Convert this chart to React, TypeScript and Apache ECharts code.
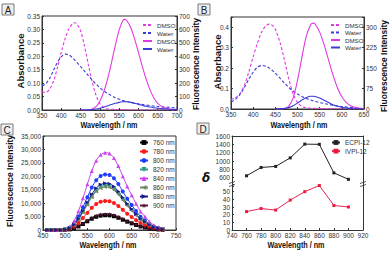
import React, { useEffect, useRef } from 'react';
import * as echarts from 'echarts';

const FONT = '"Liberation Sans", Arial, sans-serif';

// ---------- Panel A ----------
const wlAAbs = [350, 355, 360, 370, 380, 390, 400, 410, 420, 430, 435, 440, 450, 460, 470, 480, 490, 500, 510, 520, 540, 560, 600, 650, 700];
const absADmso = [0.068, 0.066, 0.066, 0.078, 0.108, 0.158, 0.215, 0.266, 0.303, 0.323, 0.325, 0.321, 0.295, 0.24, 0.17, 0.105, 0.055, 0.024, 0.009, 0.004, 0.002, 0.001, 0, 0, 0];
const absAWater = [0.09, 0.093, 0.098, 0.118, 0.148, 0.178, 0.198, 0.208, 0.205, 0.193, 0.186, 0.178, 0.162, 0.145, 0.128, 0.112, 0.097, 0.083, 0.071, 0.062, 0.046, 0.035, 0.023, 0.013, 0.008];
const wlAFl = [450, 460, 470, 480, 490, 500, 510, 520, 530, 540, 550, 560, 565, 570, 580, 590, 600, 610, 620, 630, 640, 650, 660, 670, 680, 690, 700];
const flADmso = [0, 0, 2, 8, 25, 65, 135, 230, 350, 480, 595, 668, 675, 665, 615, 530, 430, 325, 230, 150, 90, 50, 27, 14, 7, 3, 2];
const flAWater = [0, 0, 1, 3, 7, 13, 21, 31, 41, 50, 57, 61, 62, 61, 57, 50, 42, 35, 28, 22, 17, 13, 10, 8, 6, 5, 4];

// ---------- Panel B ----------
const wlBAbs = [350, 360, 370, 380, 390, 400, 410, 420, 430, 437, 445, 450, 460, 470, 480, 490, 500, 510, 520, 540, 560, 600, 650];
const absBDmso = [0.045, 0.055, 0.075, 0.115, 0.18, 0.255, 0.325, 0.38, 0.41, 0.415, 0.405, 0.39, 0.33, 0.245, 0.15, 0.075, 0.032, 0.012, 0.006, 0.003, 0.002, 0.001, 0];
const absBWater = [0.035, 0.047, 0.07, 0.105, 0.145, 0.18, 0.205, 0.213, 0.208, 0.2, 0.185, 0.175, 0.152, 0.128, 0.106, 0.088, 0.073, 0.061, 0.051, 0.037, 0.027, 0.012, 0.002];
const wlBFl = [450, 460, 470, 480, 490, 500, 510, 520, 530, 535, 540, 550, 560, 570, 580, 590, 600, 610, 620, 630, 640, 650];
const flBDmso = [0, 0, 2, 10, 40, 105, 190, 268, 310, 315, 311, 282, 236, 180, 125, 78, 45, 24, 12, 6, 3, 1];
const flBWater = [0, 1, 2, 5, 12, 22, 33, 42, 47, 47, 46, 40, 32, 24, 16, 10, 6, 4, 2, 1, 1, 0];

// ---------- Panel C ----------
const wlC = [460, 470, 480, 490, 500, 510, 520, 530, 540, 550, 560, 570, 580, 590, 600, 610, 620, 630, 640, 650, 660, 670, 680, 690, 700, 710, 720];
const c760 = [0, 0, 0, 10, 60, 230, 630, 1330, 2250, 3250, 4200, 4930, 5350, 5500, 5450, 5120, 4550, 3820, 3100, 2480, 1870, 1320, 960, 600, 350, 190, 90];
const c780 = [0, 0, 0, 20, 110, 450, 1240, 2620, 4430, 6370, 8250, 9680, 10500, 10800, 10690, 10040, 8920, 7500, 6080, 4860, 3670, 2590, 1880, 1190, 690, 380, 180];
const c800 = [0, 0, 0, 40, 210, 870, 2380, 5030, 8490, 12210, 15810, 18550, 20120, 20700, 20490, 19250, 17100, 14370, 11650, 9320, 7040, 4970, 3600, 2280, 1300, 720, 350];
const c820 = [0, 0, 0, 30, 170, 690, 1900, 4010, 6770, 9740, 12610, 14780, 16040, 16500, 16340, 15350, 13630, 11450, 9290, 7430, 5610, 3960, 2870, 1820, 1040, 580, 280];
const c840 = [0, 0, 0, 60, 290, 1210, 3310, 7000, 11810, 16990, 22000, 25800, 28000, 28800, 28510, 26780, 23790, 19990, 16210, 12960, 9790, 6910, 5010, 3170, 1810, 1010, 490];
const c860 = [0, 0, 0, 30, 160, 670, 1840, 3890, 6560, 9440, 12220, 14340, 15550, 16000, 15840, 14880, 13220, 11100, 9010, 7200, 5440, 3840, 2780, 1760, 1010, 560, 270];
const c880 = [0, 0, 0, 35, 175, 730, 2000, 4230, 7130, 10270, 13290, 15590, 16910, 17400, 17230, 16180, 14370, 12080, 9800, 7830, 5920, 4180, 3030, 1910, 1100, 610, 300];
const c900 = [0, 0, 0, 12, 60, 250, 690, 1460, 2460, 3540, 4580, 5380, 5830, 6000, 5940, 5580, 4960, 4160, 3380, 2700, 2040, 1440, 1040, 660, 380, 210, 100];
const cNames = ['760 nm', '780 nm', '800 nm', '820 nm', '840 nm', '860 nm', '880 nm', '900 nm'];
const cValues = [c760, c780, c800, c820, c840, c860, c880, c900];

// ---------- Panel D ----------
const wlD = [760, 780, 800, 820, 840, 860, 880, 900];
const ecpi = [645, 845, 870, 1075, 1405, 1400, 715, 560];
const ivpi = [24, 28, 26, 39, 50, 58, 32, 30];

const MAG = '#e23ae2';
const BLU = '#3b3bd8';
const STAR = 'path://M50,0 L61,35 L98,35 L68,57 L79,91 L50,70 L21,91 L32,57 L2,35 L39,35 Z';
const cColors = ['#000000', '#ff1a1a', '#1f3cff', '#2a9a88', '#cc44ee', '#6f8a62', '#1a1a8c', '#5a1034'];
const cSymbols = ['rect', 'circle', 'circle', 'triangle', 'triangle', 'triangle', 'triangle', STAR];
const cRotate = [0, 0, 0, 180, 0, 90, -90, 0];

const zip = (xs: number[], ys: number[]) => xs.map((x, i) => [x, ys[i]]);

const lbl = (extra: any = {}) => ({ fontSize: 6.5, color: '#333', fontFamily: FONT, margin: 2, ...extra });
const line = { show: true, lineStyle: { color: '#333', width: 1 } };
const tick = { show: true, inside: true, length: 2, lineStyle: { color: '#333' } };
const nameFmt = (n: string) => n.split('#')[0];

function axisName(text: string, x: number, y: number, rotate: boolean, size = 9) {
  return {
    type: 'text',
    x,
    y,
    rotation: rotate ? Math.PI / 2 : 0,
    scaleX: rotate ? 1 : 0.85,
    style: {
      text,
      fill: '#111',
      font: `bold ${size}px ${FONT}`,
      align: 'center',
      verticalAlign: 'middle',
      textAlign: 'center',
      textVerticalAlign: 'middle',
    },
    silent: true,
  };
}

function panelBox(letter: string, x: number, y: number) {
  return {
    type: 'group',
    children: [
      { type: 'rect', shape: { x, y, width: 12, height: 11 }, style: { fill: '#efefef', stroke: '#7a7a7a', lineWidth: 1 } },
      {
        type: 'text',
        x: x + 6,
        y: y + 6,
        style: { text: letter, fill: '#222', font: `10px ${FONT}`, align: 'center', verticalAlign: 'middle', textAlign: 'center', textVerticalAlign: 'middle' },
      },
    ],
  };
}

function breakMark(x: number, y: number) {
  return {
    type: 'group',
    children: [
      { type: 'rect', shape: { x: x - 3, y: y - 2, width: 6, height: 4 }, style: { fill: '#fff' } },
      { type: 'line', shape: { x1: x - 3, y1: y - 0.5, x2: x + 3, y2: y - 2.5 }, style: { stroke: '#333', lineWidth: 0.8 } },
      { type: 'line', shape: { x1: x - 3, y1: y + 2.5, x2: x + 3, y2: y + 0.5 }, style: { stroke: '#333', lineWidth: 0.8 } },
    ],
  };
}

export default function App() {
  const ref = useRef<HTMLDivElement>(null);
  useEffect(() => {
    if (!ref.current) return;
    const chart = echarts.init(ref.current, null, { renderer: 'svg' });
    const curve = (name: string, xs: number[], ys: number[], color: string, dashed: boolean, xi: number, yi: number) => ({
      type: 'line',
      name,
      xAxisIndex: xi,
      yAxisIndex: yi,
      data: zip(xs, ys),
      showSymbol: false,
      symbol: 'none',
      smooth: 0.3,
      lineStyle: { color, width: 1.1, type: dashed ? [3, 2] : 'solid' },
      itemStyle: { color },
    });

    const series: any[] = [
      curve('DMSO#a1', wlAAbs, absADmso, MAG, true, 0, 0),
      curve('Water#a2', wlAAbs, absAWater, BLU, true, 0, 0),
      curve('DMSO#a3', wlAFl, flADmso, MAG, false, 0, 1),
      curve('Water#a4', wlAFl, flAWater, BLU, false, 0, 1),
      curve('DMSO#b1', wlBAbs, absBDmso, MAG, true, 1, 2),
      curve('Water#b2', wlBAbs, absBWater, BLU, true, 1, 2),
      curve('DMSO#b3', wlBFl, flBDmso, MAG, false, 1, 3),
      curve('Water#b4', wlBFl, flBWater, BLU, false, 1, 3),
    ];
    cNames.forEach((n, i) => {
      series.push({
        type: 'line',
        name: n,
        xAxisIndex: 2,
        yAxisIndex: 4,
        data: zip(wlC, cValues[i]),
        symbol: cSymbols[i],
        symbolRotate: cRotate[i],
        symbolSize: 4,
        smooth: 0.3,
        lineStyle: { color: cColors[i], width: 1 },
        itemStyle: { color: cColors[i] },
      });
    });
    series.push({
      type: 'line',
      name: 'ECPI-12',
      xAxisIndex: 3,
      yAxisIndex: 5,
      data: zip(wlD, ecpi),
      symbol: 'rect',
      symbolSize: 3,
      lineStyle: { color: '#222', width: 1 },
      itemStyle: { color: '#222' },
    });
    series.push({
      type: 'line',
      name: 'IVPI-12',
      xAxisIndex: 4,
      yAxisIndex: 7,
      data: zip(wlD, ivpi),
      symbol: 'rect',
      symbolSize: 3,
      lineStyle: { color: '#e8245c', width: 1 },
      itemStyle: { color: '#ee1a3a' },
    });

    const legendBase = {
      orient: 'vertical',
      itemWidth: 8,
      itemHeight: 6,
      itemGap: 2,
      padding: 0,
      textStyle: { fontSize: 6.5, color: '#333', fontFamily: FONT },
      formatter: nameFmt,
      selectedMode: false,
    };
    const lineLegend = { ...legendBase, itemWidth: 9, itemStyle: { opacity: 0 }, textStyle: { fontSize: 6.2, color: '#333', fontFamily: FONT } };

    const hiddenAxis = { axisLabel: { show: false }, axisTick: { show: false }, splitLine: { show: false } };

    const option: any = {
      animation: false,
      backgroundColor: '#fff',
      textStyle: { fontFamily: FONT },
      grid: [
        { left: 42, top: 16, width: 135, height: 94, show: true, borderColor: '#333', borderWidth: 1, backgroundColor: 'transparent' },
        { left: 231, top: 17, width: 133, height: 92, show: true, borderColor: '#333', borderWidth: 1, backgroundColor: 'transparent' },
        { left: 43, top: 136, width: 133, height: 94, show: true, borderColor: '#333', borderWidth: 1, backgroundColor: 'transparent' },
        { left: 232, top: 136, width: 131, height: 50 },
        { left: 232, top: 184, width: 131, height: 46 },
      ],
      xAxis: [
        { type: 'value', gridIndex: 0, min: 350, max: 700, interval: 50, axisLine: line, axisTick: tick, splitLine: { show: false }, axisLabel: lbl() },
        { type: 'value', gridIndex: 1, min: 350, max: 650, interval: 50, axisLine: line, axisTick: tick, splitLine: { show: false }, axisLabel: lbl() },
        { type: 'value', gridIndex: 2, min: 450, max: 750, interval: 50, axisLine: line, axisTick: tick, splitLine: { show: false }, axisLabel: lbl() },
        { type: 'value', gridIndex: 3, min: 740, max: 920, interval: 20, position: 'top', axisLine: line, ...hiddenAxis },
        { type: 'value', gridIndex: 4, min: 740, max: 920, interval: 20, axisLine: line, axisTick: tick, splitLine: { show: false }, axisLabel: lbl() },
      ],
      yAxis: [
        { type: 'value', gridIndex: 0, min: 0, max: 0.35, interval: 0.05, axisLine: line, axisTick: tick, splitLine: { show: false }, axisLabel: lbl({ formatter: (v: number) => v.toFixed(2) }) },
        { type: 'value', gridIndex: 0, position: 'right', min: 0, max: 700, interval: 100, axisLine: line, axisTick: tick, splitLine: { show: false }, axisLabel: lbl() },
        {
          type: 'value', gridIndex: 1, min: 0, max: 0.45, interval: 0.1, axisLine: line, axisTick: tick, splitLine: { show: false },
          axisLabel: lbl({ formatter: (v: number) => (Math.abs(v * 10 - Math.round(v * 10)) < 1e-6 ? v.toFixed(1) : '') }),
        },
        {
          type: 'value', gridIndex: 1, position: 'right', min: 0, max: 337.5, interval: 75, axisLine: line, axisTick: tick, splitLine: { show: false },
          axisLabel: lbl({ formatter: (v: number) => (v % 75 === 0 ? String(v) : '') }),
        },
        { type: 'value', gridIndex: 2, min: 0, max: 35000, interval: 5000, axisLine: line, axisTick: tick, splitLine: { show: false }, axisLabel: lbl() },
        {
          type: 'value', gridIndex: 3, min: 400, max: 1600, interval: 200, axisLine: line, axisTick: tick, splitLine: { show: false },
          axisLabel: lbl({ formatter: (v: number) => (v >= 600 ? String(v) : '') }),
        },
        { type: 'value', gridIndex: 3, position: 'right', min: 400, max: 1600, axisLine: line, ...hiddenAxis },
        {
          type: 'value', gridIndex: 4, min: 0, max: 60, interval: 10, axisLine: line, axisTick: tick, splitLine: { show: false },
          axisLabel: lbl({ formatter: (v: number) => (v <= 50 ? String(v) : '') }),
        },
        { type: 'value', gridIndex: 4, position: 'right', min: 0, max: 60, axisLine: line, ...hiddenAxis },
      ],
      legend: [
        { ...lineLegend, left: 142, top: 22, data: ['DMSO#a1', 'Water#a2', 'DMSO#a3', 'Water#a4'] },
        { ...lineLegend, left: 330, top: 22, itemGap: 1.5, data: ['DMSO#b1', 'Water#b2', 'DMSO#b3', 'Water#b4'] },
        { ...legendBase, left: 139, top: 139, data: cNames },
        { ...legendBase, left: 331, top: 139, itemGap: 1.6, data: ['ECPI-12', 'IVPI-12'] },
      ],
      series,
      graphic: [
        breakMark(232, 184),
        breakMark(363, 184),
        axisName('Absorbance', 20, 61, true, 9.5),
        axisName('Fluorescence Intensity', 195.5, 64, true, 8.5),
        axisName('Wavelength / nm', 109, 125.5, false, 8.5),
        axisName('Absorbance', 217.5, 62, true, 9.5),
        axisName('Fluorescence Intensity', 384, 66, true, 8.5),
        axisName('Wavelength / nm', 299, 125.5, false, 8.5),
        axisName('Fluorescence Intensity', 10, 181, true, 8.5),
        axisName('Wavelength / nm', 108, 245, false, 8.5),
        axisName('Wavelength / nm', 296, 245, false, 8.5),
        {
          type: 'text', x: 206, y: 178,
          style: { text: 'δ', fill: '#111', font: `italic bold 12px "DejaVu Sans"`, align: 'center', verticalAlign: 'middle', textAlign: 'center', textVerticalAlign: 'middle' },
        },
        panelBox('A', 2, 4),
        panelBox('B', 198, 4),
        panelBox('C', 1, 124),
        panelBox('D', 197, 123),
      ],
    };
    chart.setOption(option);
    return () => chart.dispose();
  }, []);
  return <div ref={ref} style={{ position: 'fixed', left: 0, top: 0, width: 392, height: 253, background: '#fff' }} />;
}
